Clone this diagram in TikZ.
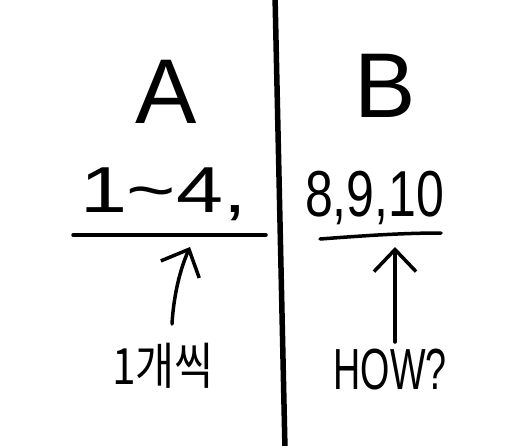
\documentclass[tikz,border=0pt]{standalone}
\usepackage{fontspec}
\setmainfont{Liberation Sans}
\newfontfamily\kofont{Noto Sans CJK KR}
\usetikzlibrary{arrows.meta}
\tikzset{
  ink/.style={line width=3.5pt, line cap=round, line join=round, black},
  divider/.style={line width=5.5pt, black},
  uparrow/.style={ink, -{Straight Barb[length=22pt,width=42pt,line width=3.5pt]}},
  lbl/.style={inner sep=0pt, outer sep=0pt},
  big/.style={lbl, font=\fontsize{92}{92}\selectfont},
  mid/.style={lbl, font=\fontsize{65}{65}\selectfont},
}
\begin{document}
\begin{tikzpicture}[x=1pt,y=-1pt]
\useasboundingbox (0,0) rectangle (521,445);
% divider
\coordinate (dtop) at (275,-5);
\coordinate (dbot) at (285,450);
\draw[divider] (dtop) -- (dbot);
% titles
\node[big] (A) at (166,92) {A};
\node[big] (B) at (385,86) {B};
% numbers
\node[mid, anchor=base west] (nA) at (80,212) {\scalebox{1.3}[1]{1\textasciitilde 4,}};
\node[mid, anchor=base west] (nB) at (305,216) {\scalebox{0.77}[1]{8,9,10}};
% underlines
\coordinate (lA1) at (73,235);
\coordinate (lA2) at (266,235);
\coordinate (lB1) at (320,239);
\coordinate (lB2) at (441,233);
\draw[ink] (lA1) -- (lA2);
\draw[ink] (lB1) .. controls (360,236) and (400,233) .. (lB2);
% labels
\node[lbl] (kA) at (163,366) {\kofont\fontsize{50}{50}\selectfont\scalebox{0.85}[1]{1개씩}};
\node[lbl] (hB) at (390,370) {\fontsize{58}{58}\selectfont\scalebox{0.65}[1]{HOW?}};
% arrows
\coordinate (tA) at (172,324);
\coordinate (pA) at (190,247);
\coordinate (tB) at (395,342);
\coordinate (pB) at (395,247);
\draw[uparrow] (tA) .. controls (174,290) and (182,265) .. (pA);
\draw[uparrow] (tB) -- (pB);
\end{tikzpicture}
\end{document}
